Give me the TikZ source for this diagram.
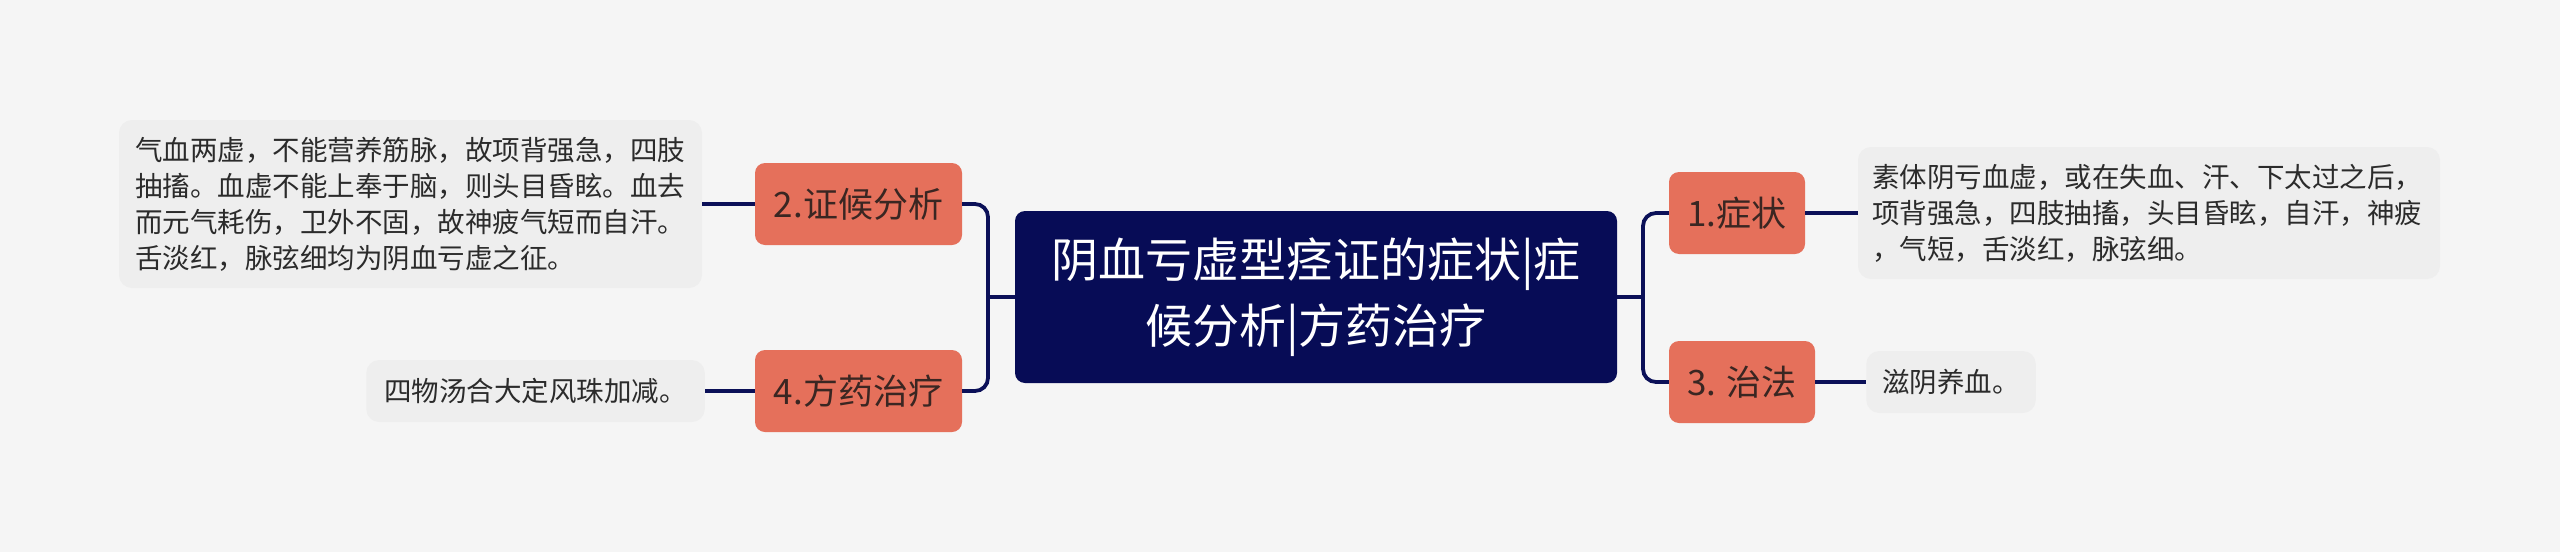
\documentclass[tikz,border=0pt]{standalone}
\usepackage{fontspec}
\setmainfont{Noto Sans CJK SC}
\definecolor{bgc}{HTML}{F5F5F5}
\definecolor{rootfill}{HTML}{070C56}
\definecolor{linec}{HTML}{0B1058}
\definecolor{topicfill}{HTML}{E5705B}
\definecolor{leaffill}{HTML}{EEEEEE}
\definecolor{leaftext}{HTML}{2B2B2B}
\definecolor{topictext}{HTML}{3A2622}
\begin{document}
\begin{tikzpicture}[x=1pt,y=-1pt,
  rootbox/.style={fill=rootfill, rounded corners=10pt, inner sep=0pt, align=center,
    text=white, font=\fontsize{47}{66}\selectfont},
  topicbox/.style={fill=topicfill, rounded corners=10pt, inner sep=0pt, align=center,
    text=topictext, font=\fontsize{35}{42}\selectfont, minimum height=82pt},
  leafbox/.style={fill=leaffill, rounded corners=13pt, inner ysep=0pt, align=left,
    text=leaftext, font=\fontsize{27.5}{36}\selectfont},
  conn/.style={draw=linec, line width=3.8pt},
]
\useasboundingbox[fill=bgc] (0,0) rectangle (2560,552);

% root
\node[rootbox, minimum width=602pt, minimum height=172pt] (root) at (1316,297)
  {阴血亏虚型痉证的症状|症\\候分析|方药治疗};

% topics
\node[topicbox, minimum width=207pt] (n2) at (858.5,204) {2.证候分析};
\node[topicbox, minimum width=207pt] (n4) at (858.5,391) {4.方药治疗};
\node[topicbox, minimum width=136pt] (n1) at (1737,213) {1.症状};
\node[topicbox, minimum width=146pt] (n3) at (1742,382) {3. 治法};

% leaves
\node[leafbox, inner xsep=16pt, text width=551pt, minimum height=168pt] (t1) at (410.5,204)
  {气血两虚，不能营养筋脉，故项背强急，四肢\\抽搐。血虚不能上奉于脑，则头目昏眩。血去\\而元气耗伤，卫外不固，故神疲气短而自汗。\\舌淡红，脉弦细均为阴血亏虚之征。};
\node[leafbox, inner xsep=18pt, minimum height=62pt] (t2) at (535.5,391)
  {四物汤合大定风珠加减。};
\node[leafbox, inner xsep=14pt, text width=554pt, minimum height=132pt] (r1) at (2149,213)
  {素体阴亏血虚，或在失血、汗、下太过之后，\\项背强急，四肢抽搐，头目昏眩，自汗，神疲\\，气短，舌淡红，脉弦细。};
\node[leafbox, inner xsep=16pt, minimum height=62pt] (r2) at (1951,382)
  {滋阴养血。};

% junctions
\coordinate (lj) at (988,297);
\coordinate (rj) at (1643,297);

% connectors
\draw[conn] (root.west) -- (lj);
\draw[conn, rounded corners=13pt] (n2.east) -| (lj);
\draw[conn, rounded corners=13pt] (n4.east) -| (lj);
\draw[conn] (root.east) -- (rj);
\draw[conn, rounded corners=13pt] (n1.west) -| (rj);
\draw[conn, rounded corners=13pt] (n3.west) -| (rj);
\draw[conn] (n2.west) -- (t1.east);
\draw[conn] (n4.west) -- (t2.east);
\draw[conn] (n1.east) -- (r1.west);
\draw[conn] (n3.east) -- (r2.west);
\end{tikzpicture}
\end{document}
